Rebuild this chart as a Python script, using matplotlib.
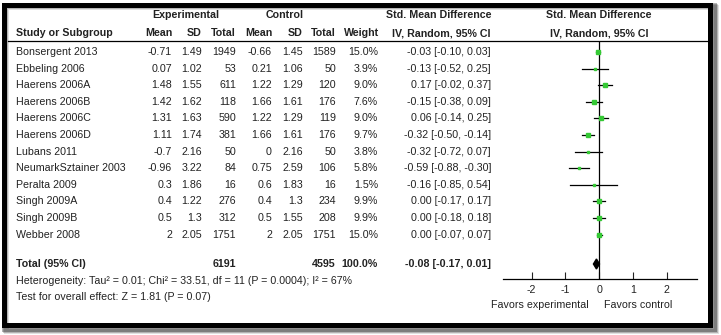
import matplotlib
matplotlib.use("Agg")
import matplotlib.pyplot as plt
from matplotlib.patches import Rectangle, Polygon
from matplotlib.lines import Line2D

plt.rcParams["font.family"] = ["Liberation Sans", "DejaVu Sans"]

# data
studies = ["Bonsergent 2013", "Ebbeling 2006", "Haerens 2006A", "Haerens 2006B",
           "Haerens 2006C", "Haerens 2006D", "Lubans 2011", "NeumarkSztainer 2003",
           "Peralta 2009", "Singh 2009A", "Singh 2009B", "Webber 2008"]
exp_mean = ["-0.71", "0.07", "1.48", "1.42", "1.31", "1.11", "-0.7", "-0.96", "0.3", "0.4", "0.5", "2"]
exp_sd = ["1.49", "1.02", "1.55", "1.62", "1.63", "1.74", "2.16", "3.22", "1.86", "1.22", "1.3", "2.05"]
exp_n = [1949, 53, 611, 118, 590, 381, 50, 84, 16, 276, 312, 1751]
ctl_mean = ["-0.66", "0.21", "1.22", "1.66", "1.22", "1.66", "0", "0.75", "0.6", "0.4", "0.5", "2"]
ctl_sd = ["1.45", "1.06", "1.29", "1.61", "1.29", "1.61", "2.16", "2.59", "1.83", "1.3", "1.55", "2.05"]
ctl_n = [1589, 50, 120, 176, 119, 176, 50, 106, 16, 234, 208, 1751]
weight = [15.0, 3.9, 9.0, 7.6, 9.0, 9.7, 3.8, 5.8, 1.5, 9.9, 9.9, 15.0]
smd = [-0.03, -0.13, 0.17, -0.15, 0.06, -0.32, -0.32, -0.59, -0.16, 0.00, 0.00, 0.00]
ci_lo = [-0.10, -0.52, -0.02, -0.38, -0.14, -0.50, -0.72, -0.88, -0.85, -0.17, -0.18, -0.07]
ci_hi = [0.03, 0.25, 0.37, 0.09, 0.25, -0.14, 0.07, -0.30, 0.54, 0.17, 0.18, 0.07]
total_exp, total_ctl, total_weight = 6191, 4595, 100.0
pooled, pooled_lo, pooled_hi = -0.08, -0.17, 0.01
heterogeneity = "Heterogeneity: Tau² = 0.01; Chi² = 33.51, df = 11 (P = 0.0004); I² = 67%"
overall = "Test for overall effect: Z = 1.81 (P = 0.07)"
xticks = [-2, -1, 0, 1, 2]

W, H = 721, 335
fig = plt.figure(figsize=(W / 100, H / 100), dpi=100)
FS = 7.7
TXT = "#222222"
GREEN = "#35c935"


def put(x, y, s, ha="left", bold=False):
    fig.text(x / W, 1 - y / H, s, ha=ha, va="center", fontsize=FS, color=TXT,
             fontweight="bold" if bold else "normal")


# frame with soft shadow
for off, a in [(4, 0.12), (3, 0.2), (2, 0.3)]:
    fig.patches.append(Rectangle((2 / W + off / W, 1 - (327 + off) / H), 710 / W, 324 / H,
                                 transform=fig.transFigure, fill=False,
                                 edgecolor="black", alpha=a, lw=3.6))
fig.patches.append(Rectangle((4 / W, 1 - 325 / H), 706 / W, 320 / H,
                             transform=fig.transFigure, fill=False,
                             edgecolor="black", lw=3.6))

# header
put(186, 15, "Experimental", ha="center", bold=True)
put(285, 15, "Control", ha="center", bold=True)
put(491, 15, "Std. Mean Difference", ha="right", bold=True)
put(599, 15, "Std. Mean Difference", ha="center", bold=True)
put(16, 33, "Study or Subgroup", bold=True)
for x, s in [(172, "Mean"), (202, "SD"), (236, "Total"), (272, "Mean"),
             (303, "SD"), (336, "Total"), (379, "Weight"), (491, "IV, Random, 95% CI")]:
    put(x, 33, s, ha="right", bold=True)
put(599, 33, "IV, Random, 95% CI", ha="center", bold=True)
fig.lines.append(Line2D([8 / W, 708 / W], [1 - 41 / H] * 2, transform=fig.transFigure,
                        color="black", lw=0.9))

row_y = [52 + 16.6 * i for i in range(len(studies))]
total_y = 264

for i, name in enumerate(studies):
    y = row_y[i]
    put(16, y, name)
    put(172, y, exp_mean[i], ha="right")
    put(202, y, exp_sd[i], ha="right")
    put(236, y, str(exp_n[i]), ha="right")
    put(272, y, ctl_mean[i], ha="right")
    put(303, y, ctl_sd[i], ha="right")
    put(336, y, str(ctl_n[i]), ha="right")
    put(378, y, f"{weight[i]:.1f}%", ha="right")
    put(491, y, f"{smd[i]:.2f} [{ci_lo[i]:.2f}, {ci_hi[i]:.2f}]", ha="right")

put(16, total_y, "Total (95% CI)", bold=True)
put(236, total_y, str(total_exp), ha="right", bold=True)
put(336, total_y, str(total_ctl), ha="right", bold=True)
put(378, total_y, f"{total_weight:.1f}%", ha="right", bold=True)
put(491, total_y, f"{pooled:.2f} [{pooled_lo:.2f}, {pooled_hi:.2f}]", ha="right", bold=True)
put(16, 281, heterogeneity)
put(16, 297, overall)

# forest panel
x0, x1, ytop, ybot = 503, 697, 41, 279
ax = fig.add_axes([x0 / W, 1 - ybot / H, (x1 - x0) / W, (ybot - ytop) / H])
ax.set_xlim(-2.85, 2.9)
ax.set_ylim(ybot, ytop)
for s in ["top", "left", "right"]:
    ax.spines[s].set_visible(False)
ax.spines["bottom"].set_linewidth(0.9)
ax.set_yticks([])
ax.set_xticks(xticks)
ax.set_xticklabels([str(t) for t in xticks])
ax.tick_params(axis="x", direction="in", length=5, width=0.8, labelsize=FS,
               pad=4, colors=TXT)
ax.patch.set_alpha(0)
ax.axvline(0, color="black", lw=0.9)

for i in range(len(studies)):
    y = row_y[i]
    ax.plot([ci_lo[i], ci_hi[i]], [y, y], color="black", lw=0.9)
    ax.plot(smd[i], y, marker="s", ms=1.4 + weight[i] * 0.12, color=GREEN, mec=GREEN)

ax.add_patch(Polygon([[pooled_lo, total_y], [pooled, total_y - 5],
                      [pooled_hi, total_y], [pooled, total_y + 5]],
                     closed=True, color="black"))

ax.text(-0.3, -0.11, "Favors experimental", transform=ax.get_xaxis_transform(),
        ha="right", va="center", fontsize=FS, color=TXT)
ax.text(0.15, -0.11, "Favors control", transform=ax.get_xaxis_transform(),
        ha="left", va="center", fontsize=FS, color=TXT)

fig.savefig("out.png", dpi=100)
